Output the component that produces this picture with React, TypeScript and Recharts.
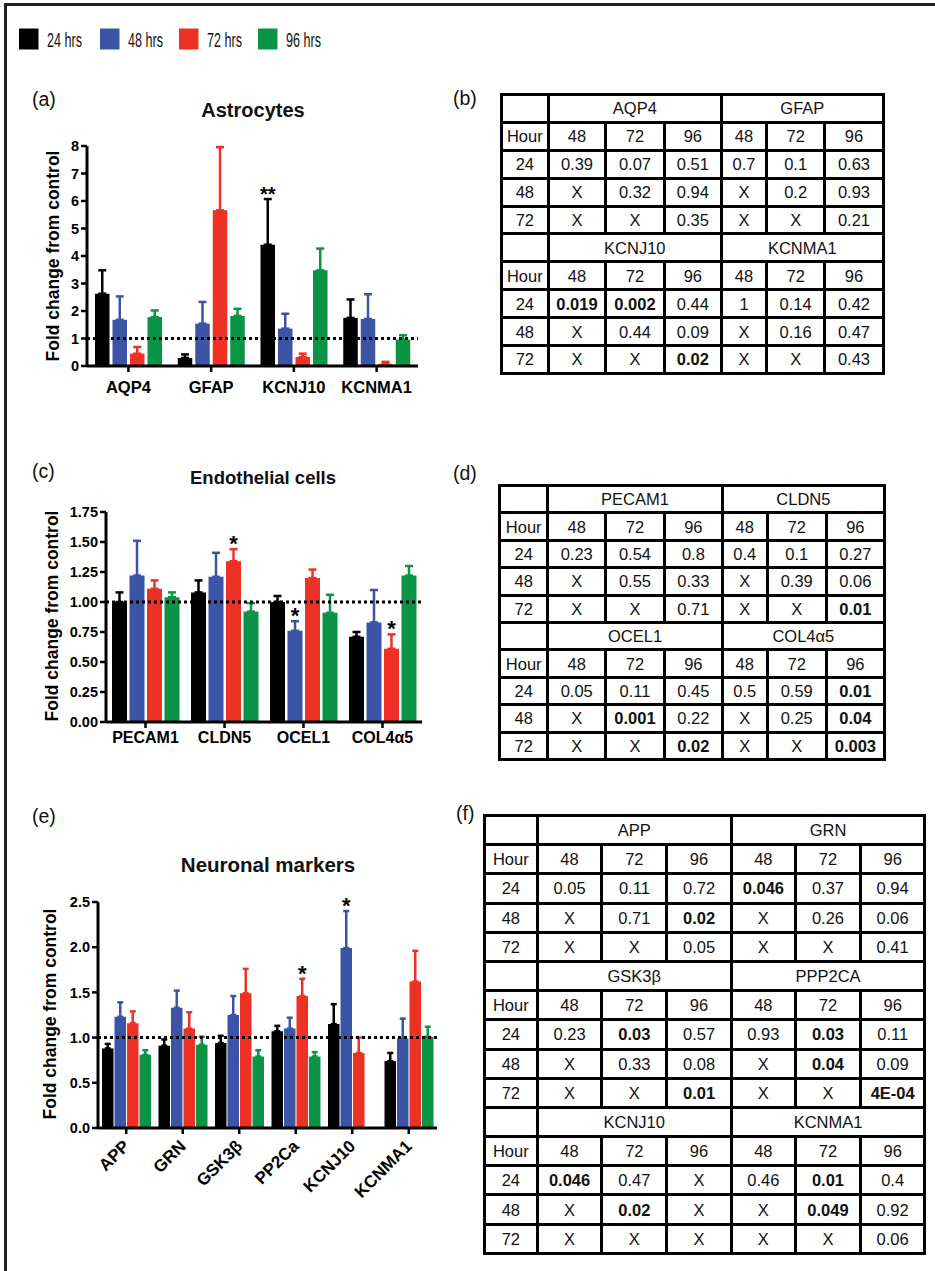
import React from 'react';
import { BarChart, Bar, XAxis, YAxis, ErrorBar, ReferenceLine, LabelList } from 'recharts';

// series (time points)
const seriesNames = ['24 hrs', '48 hrs', '72 hrs', '96 hrs'];
const seriesColors = ['#000000', '#3b54a5', '#ed3225', '#0c9446'];

// (a) Astrocytes
const astroGenes = ['AQP4', 'GFAP', 'KCNJ10', 'KCNMA1'];
const astro24 = [2.63, 0.29, 4.41, 1.75];
const astro48 = [1.68, 1.54, 1.36, 1.71];
const astro72 = [0.45, 5.66, 0.33, 0.08];
const astro96 = [1.78, 1.82, 3.48, 0.96];
const astro24Err = [0.85, 0.13, 1.66, 0.67];
const astro48Err = [0.85, 0.79, 0.54, 0.9];
const astro72Err = [0.24, 2.3, 0.12, 0.07];
const astro96Err = [0.24, 0.26, 0.79, 0.16];
const astroStars = [['', '', '**', ''], ['', '', '', ''], ['', '', '', ''], ['', '', '', '']];
const astroTicks = [0, 1, 2, 3, 4, 5, 6, 7, 8];

// (c) Endothelial cells
const endoGenes = ['PECAM1', 'CLDN5', 'OCEL1', 'COL4α5'];
const endo24 = [1.0, 1.08, 1.0, 0.71];
const endo48 = [1.22, 1.21, 0.76, 0.83];
const endo72 = [1.11, 1.34, 1.2, 0.61];
const endo96 = [1.04, 0.92, 0.91, 1.22];
const endo24Err = [0.08, 0.1, 0.05, 0.04];
const endo48Err = [0.29, 0.2, 0.08, 0.27];
const endo72Err = [0.07, 0.1, 0.07, 0.12];
const endo96Err = [0.04, 0.07, 0.15, 0.08];
const endoStars = [['', '', '', ''], ['', '', '*', ''], ['', '*', '', '*'], ['', '', '', '']];
const endoTicks = [0, 0.25, 0.5, 0.75, 1, 1.25, 1.5, 1.75];

// (e) Neuronal markers
const neuroGenes = ['APP', 'GRN', 'GSK3β', 'PP2Ca', 'KCNJ10', 'KCNMA1'];
const neuro24 = [0.88, 0.91, 0.94, 1.07, 1.15, 0.74];
const neuro48 = [1.23, 1.33, 1.25, 1.1, 1.99, 0.99];
const neuro72 = [1.16, 1.1, 1.49, 1.46, 0.83, 1.62];
const neuro96 = [0.81, 0.92, 0.79, 0.79, null, 1.01];
const neuro24Err = [0.05, 0.07, 0.08, 0.06, 0.22, 0.09];
const neuro48Err = [0.16, 0.19, 0.21, 0.12, 0.41, 0.22];
const neuro72Err = [0.13, 0.18, 0.27, 0.19, 0.17, 0.34];
const neuro96Err = [0.05, 0.09, 0.07, 0.05, 0, 0.11];
const neuroStars = [['', '', '', '', '', ''], ['', '', '', '', '*', ''], ['', '', '', '*', '', ''], ['', '', '', '', '', '']];
const neuroTicks = [0, 0.5, 1, 1.5, 2, 2.5];

// p-value tables
const rowHours = ['24', '48', '72'];
const colHours = ['48', '72', '96'];
const astroTableGenes = [['AQP4', 'GFAP'], ['KCNJ10', 'KCNMA1']];
const astroTableP = [
  [['0.39', '0.07', '0.51', '0.7', '0.1', '0.63'], ['X', '0.32', '0.94', 'X', '0.2', '0.93'], ['X', 'X', '0.35', 'X', 'X', '0.21']],
  [['0.019', '0.002', '0.44', '1', '0.14', '0.42'], ['X', '0.44', '0.09', 'X', '0.16', '0.47'], ['X', 'X', '0.02', 'X', 'X', '0.43']],
];
const endoTableGenes = [['PECAM1', 'CLDN5'], ['OCEL1', 'COL4α5']];
const endoTableP = [
  [['0.23', '0.54', '0.8', '0.4', '0.1', '0.27'], ['X', '0.55', '0.33', 'X', '0.39', '0.06'], ['X', 'X', '0.71', 'X', 'X', '0.01']],
  [['0.05', '0.11', '0.45', '0.5', '0.59', '0.01'], ['X', '0.001', '0.22', 'X', '0.25', '0.04'], ['X', 'X', '0.02', 'X', 'X', '0.003']],
];
const neuroTableGenes = [['APP', 'GRN'], ['GSK3β', 'PPP2CA'], ['KCNJ10', 'KCNMA1']];
const neuroTableP = [
  [['0.05', '0.11', '0.72', '0.046', '0.37', '0.94'], ['X', '0.71', '0.02', 'X', '0.26', '0.06'], ['X', 'X', '0.05', 'X', 'X', '0.41']],
  [['0.23', '0.03', '0.57', '0.93', '0.03', '0.11'], ['X', '0.33', '0.08', 'X', '0.04', '0.09'], ['X', 'X', '0.01', 'X', 'X', '4E-04']],
  [['0.046', '0.47', 'X', '0.46', '0.01', '0.4'], ['X', '0.02', 'X', 'X', '0.049', '0.92'], ['X', 'X', 'X', 'X', 'X', '0.06']],
];

const FONT = '"Liberation Sans", Arial, sans-serif';

function buildRows(genes: string[], means: (number | null)[][], errs: number[][], stars: string[][]) {
  return genes.map((g, i) => {
    const row: any = { gene: g };
    means.forEach((m, s) => {
      row['v' + s] = m[i];
      row['e' + s] = [0, errs[s][i]];
      row['s' + s] = stars[s][i];
    });
    return row;
  });
}

const AngledTick = (props: any) => {
  const { x, y, payload } = props;
  return (
    <text
      x={x}
      y={y}
      dy="0.35em"
      transform={`rotate(-45 ${x} ${y})`}
      textAnchor="end"
      fontSize={17}
      fontWeight="bold"
      fill="#000"
      fontFamily={FONT}
    >
      {payload.value}
    </text>
  );
};

type PanelProps = {
  top: number;
  height: number;
  marginTop: number;
  marginLeft: number;
  marginRight: number;
  yAxisWidth: number;
  xAxisHeight: number;
  genes: string[];
  means: (number | null)[][];
  errs: number[][];
  stars: string[][];
  ticks: number[];
  decimals: number;
  barSize: number;
  barGap: number;
  capWidth: number;
  starSize: number;
  xTickMargin: number;
  xFont: number;
  angled?: boolean;
};

const GroupedBars = (p: PanelProps) => {
  const data = buildRows(p.genes, p.means, p.errs, p.stars);
  const yMax = p.ticks[p.ticks.length - 1];
  const plotH = p.height - p.marginTop - 4 - p.xAxisHeight;
  const ppu = plotH / yMax;

  const starLabel = (s: number) => (lp: any) => {
    const { x, y, width, value, index } = lp;
    if (!value) return null;
    const topPx = Number(y) - p.errs[s][index] * ppu;
    return (
      <text
        x={Number(x) + Number(width) / 2}
        y={topPx + 2}
        textAnchor="middle"
        fontSize={p.starSize}
        fontWeight="bold"
        fill="#000"
        fontFamily={FONT}
      >
        {value}
      </text>
    );
  };

  return (
    <div style={{ position: 'absolute', left: 0, top: p.top }}>
      <BarChart
        width={440}
        height={p.height}
        data={data}
        barGap={p.barGap}
        margin={{ top: p.marginTop, right: p.marginRight, left: p.marginLeft, bottom: 4 }}
      >
        <XAxis
          dataKey="gene"
          height={p.xAxisHeight}
          interval={0}
          axisLine={{ stroke: '#000', strokeWidth: 3 }}
          tickLine={{ stroke: '#000', strokeWidth: 2.5 }}
          tickSize={6}
          tickMargin={p.xTickMargin}
          tick={p.angled ? <AngledTick /> : { fill: '#000', fontSize: p.xFont, fontWeight: 'bold', fontFamily: FONT }}
        />
        <YAxis
          width={p.yAxisWidth}
          domain={[0, yMax]}
          ticks={p.ticks}
          interval={0}
          axisLine={{ stroke: '#000', strokeWidth: 3 }}
          tickLine={{ stroke: '#000', strokeWidth: 2.5 }}
          tickSize={6}
          tickMargin={2}
          tickFormatter={(v: number) => v.toFixed(p.decimals)}
          tick={{ fill: '#000', fontSize: 14.5, fontWeight: 'bold', fontFamily: FONT }}
        />
        {seriesColors.map((c, s) => (
          <Bar key={s} dataKey={'v' + s} fill={c} barSize={p.barSize} isAnimationActive={false}>
            <ErrorBar dataKey={'e' + s} width={p.capWidth} stroke={c} strokeWidth={2.5} isAnimationActive={false} />
            <LabelList dataKey={'s' + s} content={starLabel(s)} />
          </Bar>
        ))}
        <ReferenceLine y={1} stroke="#000" strokeWidth={3} strokeDasharray="3 3" />
      </BarChart>
    </div>
  );
};

const isSig = (v: string) => v !== 'X' && parseFloat(v) < 0.05;

type TableProps = {
  left: number;
  top: number;
  colWidths: number[];
  rowHeight: number;
  genes: string[][];
  pvals: string[][][];
};

const PTable = ({ left, top, colWidths, rowHeight, genes, pvals }: TableProps) => {
  const cell: React.CSSProperties = {
    border: '3px solid #000',
    padding: 0,
    textAlign: 'center',
    fontSize: 16.5,
    lineHeight: '16px',
    color: '#111',
  };
  const total = colWidths.reduce((a, b) => a + b, 0);
  return (
    <table
      style={{
        position: 'absolute',
        left,
        top,
        width: total,
        borderCollapse: 'collapse',
        tableLayout: 'fixed',
        fontFamily: FONT,
      }}
    >
      <colgroup>
        {colWidths.map((w, i) => (
          <col key={i} style={{ width: w }} />
        ))}
      </colgroup>
      <tbody>
        {genes.map((pair, b) => (
          <React.Fragment key={b}>
            <tr style={{ height: rowHeight }}>
              <td style={cell} />
              <td style={cell} colSpan={3}>{pair[0]}</td>
              <td style={cell} colSpan={3}>{pair[1]}</td>
            </tr>
            <tr style={{ height: rowHeight }}>
              <td style={cell}>Hour</td>
              {[...colHours, ...colHours].map((h, i) => (
                <td key={i} style={cell}>{h}</td>
              ))}
            </tr>
            {rowHours.map((h, r) => (
              <tr key={r} style={{ height: rowHeight }}>
                <td style={cell}>{h}</td>
                {pvals[b][r].map((v, i) => (
                  <td key={i} style={{ ...cell, fontWeight: isSig(v) ? 'bold' : 'normal' }}>{v}</td>
                ))}
              </tr>
            ))}
          </React.Fragment>
        ))}
      </tbody>
    </table>
  );
};

const text = (s: string, style: React.CSSProperties) => (
  <div style={{ position: 'absolute', whiteSpace: 'nowrap', fontFamily: FONT, color: '#111', lineHeight: 1, ...style }}>{s}</div>
);

const yLabel = (cx: number, cy: number) => (
  <div
    style={{
      position: 'absolute',
      left: cx,
      top: cy,
      transform: 'translate(-50%, -50%) rotate(-90deg)',
      whiteSpace: 'nowrap',
      fontFamily: FONT,
      fontWeight: 'bold',
      fontSize: 17.5,
      lineHeight: '18px',
      color: '#000',
    }}
  >
    Fold change from control
  </div>
);

const legendX = [19, 100, 179, 258];

export default function App() {
  return (
    <div
      style={{
        position: 'absolute',
        left: 0,
        top: 0,
        width: 935,
        height: 1271,
        overflow: 'hidden',
        background: '#fff',
        fontFamily: FONT,
      }}
    >
      <div
        style={{
          position: 'absolute',
          left: 4,
          top: 3,
          width: 1000,
          height: 1400,
          borderTop: '3px solid #231f20',
          borderLeft: '3px solid #231f20',
        }}
      />
      <svg width={600} height={70} style={{ position: 'absolute', left: 0, top: 0 }}>
        {seriesNames.map((n, i) => (
          <g key={n}>
            <rect x={legendX[i]} y={28.5} width={19.5} height={21} fill={seriesColors[i]} />
            <text
              x={legendX[i] + 28}
              y={46.5}
              fontSize={21}
              textLength={35}
              lengthAdjust="spacingAndGlyphs"
              fontFamily={FONT}
              fill="#111"
            >
              {n}
            </text>
          </g>
        ))}
      </svg>

      {text('(a)', { left: 32, top: 90, fontSize: 19.5 })}
      {text('Astrocytes', { left: 253, top: 110, fontSize: 20, fontWeight: 'bold', transform: 'translate(-50%,-50%)' })}
      {yLabel(53, 256)}
      <GroupedBars
        top={120}
        height={280}
        marginTop={26}
        marginLeft={47}
        marginRight={22}
        yAxisWidth={40}
        xAxisHeight={30}
        genes={astroGenes}
        means={[astro24, astro48, astro72, astro96]}
        errs={[astro24Err, astro48Err, astro72Err, astro96Err]}
        stars={astroStars}
        ticks={astroTicks}
        decimals={0}
        barSize={14.5}
        barGap={3}
        capWidth={4}
        starSize={20}
        xTickMargin={9}
        xFont={16.5}
      />

      {text('(c)', { left: 32, top: 462, fontSize: 19.5 })}
      {text('Endothelial cells', { left: 263, top: 478, fontSize: 18.5, fontWeight: 'bold', transform: 'translate(-50%,-50%)' })}
      {yLabel(52, 616)}
      <GroupedBars
        top={490}
        height={266}
        marginTop={22}
        marginLeft={60}
        marginRight={18}
        yAxisWidth={46}
        xAxisHeight={30}
        genes={endoGenes}
        means={[endo24, endo48, endo72, endo96]}
        errs={[endo24Err, endo48Err, endo72Err, endo96Err]}
        stars={endoStars}
        ticks={endoTicks}
        decimals={2}
        barSize={15}
        barGap={2.5}
        capWidth={4}
        starSize={22}
        xTickMargin={4}
        xFont={16}
      />

      {text('(e)', { left: 32, top: 807, fontSize: 19.5 })}
      {text('Neuronal markers', { left: 268, top: 865, fontSize: 20.5, fontWeight: 'bold', transform: 'translate(-50%,-50%)' })}
      {yLabel(50, 1014)}
      <GroupedBars
        top={880}
        height={332}
        marginTop={22}
        marginLeft={58}
        marginRight={3}
        yAxisWidth={40}
        xAxisHeight={80}
        genes={neuroGenes}
        means={[neuro24, neuro48, neuro72, neuro96]}
        errs={[neuro24Err, neuro48Err, neuro72Err, neuro96Err]}
        stars={neuroStars}
        ticks={neuroTicks}
        decimals={1}
        barSize={11.5}
        barGap={1}
        capWidth={3}
        starSize={22}
        xTickMargin={9}
        xFont={17}
        angled
      />

      {text('(b)', { left: 453, top: 89, fontSize: 19.5 })}
      <PTable
        left={500}
        top={93}
        colWidths={[46.7, 57.6, 58.4, 57.3, 45, 58.3, 58.4]}
        rowHeight={27.9}
        genes={astroTableGenes}
        pvals={astroTableP}
      />
      {text('(d)', { left: 453, top: 464, fontSize: 19.5 })}
      <PTable
        left={498}
        top={484}
        colWidths={[48.4, 57.6, 59, 57.7, 45, 59, 58.3]}
        rowHeight={27.4}
        genes={endoTableGenes}
        pvals={endoTableP}
      />
      {text('(f)', { left: 456, top: 804, fontSize: 19.5 })}
      <PTable
        left={483}
        top={814}
        colWidths={[52.7, 64.7, 65, 64.3, 64.3, 65, 64.3]}
        rowHeight={29.2}
        genes={neuroTableGenes}
        pvals={neuroTableP}
      />
    </div>
  );
}
